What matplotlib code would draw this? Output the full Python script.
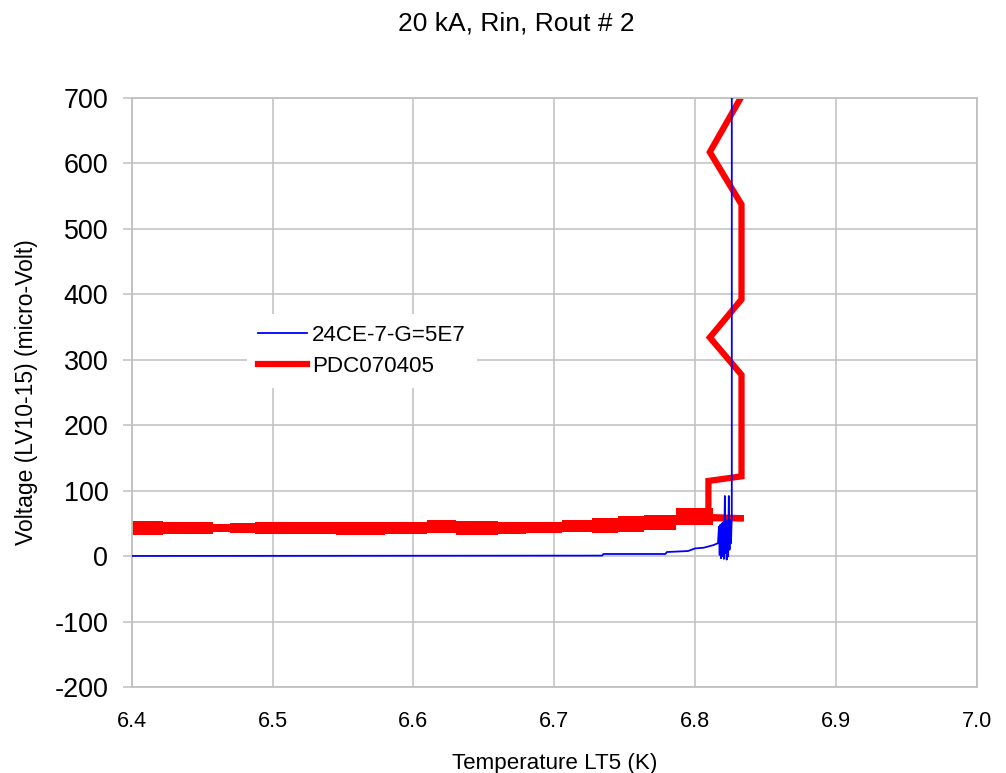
import matplotlib
matplotlib.use("Agg")
import matplotlib.pyplot as plt

plt.rcParams['font.family'] = ['Liberation Sans', 'DejaVu Sans']
plt.rcParams['axes.unicode_minus'] = False

title = "20 kA, Rin, Rout # 2"
xlabel = "Temperature LT5 (K)"
ylabel = "Voltage (LV10-15) (micro-Volt)"
series_names = ["24CE-7-G=5E7", "PDC070405"]

# Blue series (24CE-7-G=5E7)
blue_x = [6.400, 6.600, 6.734, 6.735, 6.779, 6.780, 6.795, 6.800, 6.806, 6.813,
          6.8163, 6.8170, 6.8175, 6.8180, 6.8185, 6.8190, 6.8195, 6.8200, 6.8205,
          6.8212, 6.8215, 6.8220, 6.8225, 6.8230, 6.8235, 6.8240, 6.8245, 6.8250,
          6.8255, 6.8261, 6.8261]
blue_y = [0.5, 0.8, 1.0, 3.5, 3.5, 6.5, 8, 12, 13, 17,
          20, 45, 2, 48, -3, 50, 0, 52, -4,
          92, 5, 50, -5, 55, 0, 92, 10, 55,
          20, 60, 800]

# Red series (PDC070405): noisy low-temperature band (upper / lower envelope)
red_band_x = [6.400, 6.4225, 6.4575, 6.470, 6.4875, 6.520, 6.545, 6.580, 6.610,
              6.630, 6.660, 6.680, 6.7055, 6.7265, 6.745, 6.7635, 6.7865, 6.8125]
red_band_top = [54, 53, 50, 51, 53, 52, 53, 52, 56,
                54, 53, 53, 56, 59, 61, 63, 73, 73]
red_band_bot = [33, 34, 37, 35, 34, 34, 33, 34, 35,
                33, 34, 35, 37, 36, 37, 40, 48, 48]
# Red series: transition part
red_tail_x = [6.8095, 6.8345, 6.8095, 6.8095, 6.833, 6.833, 6.8105, 6.833,
              6.833, 6.8105, 6.8365]
red_tail_y = [58, 58, 60, 115, 122, 277, 334, 392, 537, 617, 715]

xlim = (6.4, 7.0)
ylim = (-200, 700)
xticks = [6.4, 6.5, 6.6, 6.7, 6.8, 6.9, 7.0]
xticklabels = ["6.4", "6.5", "6.6", "6.7", "6.8", "6.9", "7.0"]
yticks = [-200, -100, 0, 100, 200, 300, 400, 500, 600, 700]

W, H = 1006, 773
fig = plt.figure(figsize=(W / 100, H / 100), dpi=100)
L, R, T, B = 131.7, 976.7, 97.7, 687.3
ax = fig.add_axes([L / W, 1 - B / H, (R - L) / W, (B - T) / H])

grid_c = '#c0c0c0'
red = '#ff0000'
ax.plot(blue_x, blue_y, color='#0000ff', lw=1.3, label=series_names[0], zorder=3)
ax.fill_between(red_band_x, red_band_bot, red_band_top, step='post', color=red,
                lw=0, zorder=2)
ax.plot(red_tail_x, red_tail_y, color=red, lw=4.5, label=series_names[1], zorder=2,
        solid_joinstyle='miter')

ax.set_xlim(*xlim)
ax.set_ylim(*ylim)
ax.set_xticks(xticks)
ax.set_xticklabels(xticklabels)
ax.set_yticks(yticks)
ax.grid(True, color=grid_c, lw=1.1)
ax.set_axisbelow(True)
for s in ax.spines.values():
    s.set_color(grid_c)
    s.set_linewidth(1.3)
ax.tick_params(axis='y', length=6.3, color=grid_c, width=1.1, pad=10.5, labelsize=19.4)
ax.tick_params(axis='x', length=0, pad=17, labelsize=15.6)

fig.text(516 / W, 1 - 30.7 / H, title, ha='center', va='baseline', fontsize=19)
fig.text(554.5 / W, 1 - 769 / H, xlabel, ha='center', va='baseline', fontsize=16.1)
fig.text(27 / W, 1 - 392.5 / H, ylabel, ha='center', va='center', rotation=90, fontsize=16.5)

leg = ax.legend(loc='upper left', bbox_to_anchor=(247 / W, 1 - 314 / H),
                bbox_transform=fig.transFigure, fontsize=16.1, frameon=True,
                fancybox=False, framealpha=1, facecolor='white', edgecolor='none',
                handlelength=2.2, handletextpad=0.2, labelspacing=0.45,
                borderpad=0.5, borderaxespad=0)

fig.savefig("out.png", dpi=100)
